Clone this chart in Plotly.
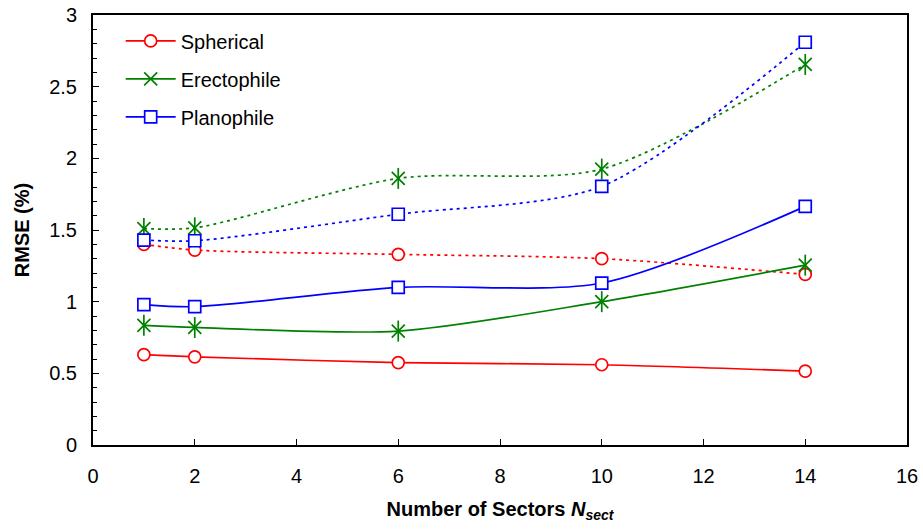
import plotly.graph_objects as go

# number of sectors
sectors = [1, 2, 6, 10, 14]

# RMSE (%) - solid curves
spherical = [0.63, 0.615, 0.575, 0.56, 0.515]
erectophile = [0.835, 0.82, 0.795, 1.0, 1.255]
planophile = [0.98, 0.965, 1.10, 1.13, 1.665]

# RMSE (%) - dotted curves
spherical_dot = [1.40, 1.36, 1.33, 1.30, 1.19]
erectophile_dot = [1.51, 1.515, 1.86, 1.925, 2.655]
planophile_dot = [1.43, 1.425, 1.61, 1.805, 2.81]

RED = '#ff0000'
GREEN = '#008000'
BLUE = '#0000ff'
FONT = 'Liberation Sans, Arial, sans-serif'

series = [
    ('Spherical', spherical, spherical_dot, RED, 'circle'),
    ('Erectophile', erectophile, erectophile_dot, GREEN, 'x-thin-open'),
    ('Planophile', planophile, planophile_dot, BLUE, 'square'),
]

traces = []
for name, solid, dotted, color, symbol in series:
    for values, dash, legend in ((dotted, '3px,4px', False), (solid, 'solid', True)):
        traces.append(
            go.Scatter(
                x=sectors,
                y=values,
                name=name,
                legendgroup=name,
                showlegend=legend,
                mode='lines+markers',
                line=dict(color=color, width=1.7, dash=dash,
                          shape='spline', smoothing=0.8),
                marker=dict(
                    symbol=symbol,
                    size=12 if symbol != 'x-thin-open' else 13,
                    color='white' if symbol != 'x-thin-open' else color,
                    line=dict(color=color, width=1.7),
                ),
                cliponaxis=False,
            )
        )
        if symbol == 'x-thin-open':
            # vertical bar turns the cross into an Excel style star
            traces.append(
                go.Scatter(
                    x=sectors,
                    y=values,
                    mode='markers',
                    showlegend=False,
                    hoverinfo='skip',
                    marker=dict(symbol='line-ns-open', size=15, color=color,
                                line=dict(color=color, width=1.7)),
                    cliponaxis=False,
                )
            )

axis_common = dict(
    showgrid=False,
    zeroline=False,
    showline=True,
    linecolor='black',
    linewidth=2,
    mirror=True,
    ticks='inside',
    ticklen=6,
    tickwidth=1,
    tickcolor='black',
    automargin=False,
    ticklabeloverflow='allow',
    tickfont=dict(family=FONT, size=20, color='black'),
)

layout = dict(
    width=923,
    height=530,
    plot_bgcolor='white',
    paper_bgcolor='white',
    margin=dict(l=93, r=16, t=15, b=85),
    xaxis=dict(
        axis_common,
        range=[0, 16],
        dtick=2,
        ticklabelstandoff=12,
        title=dict(
            text='<b>Number of Sectors <i>N<sub>sect</sub></i></b>',
            font=dict(family=FONT, size=20, color='black'),
            standoff=16,
        ),
    ),
    yaxis=dict(
        axis_common,
        range=[0, 3],
        dtick=0.5,
        ticklabelstandoff=10,
        minor=dict(dtick=0.1, ticks='inside', ticklen=4, tickcolor='black'),
        title=dict(
            text='<b>RMSE (%)</b>',
            font=dict(family=FONT, size=20, color='black'),
            standoff=14,
        ),
    ),
    legend=dict(
        x=0.034,
        y=0.985,
        xanchor='left',
        yanchor='top',
        bgcolor='rgba(0,0,0,0)',
        font=dict(family=FONT, size=20, color='black'),
        itemwidth=50,
        tracegroupgap=9,
    ),
    showlegend=True,
)

fig = go.Figure(data=traces, layout=layout)
# drop the default page margin so the figure fills the window exactly
fig.write_html(
    'out.html',
    config=dict(displayModeBar=False),
    post_script="document.body.style.margin = '0';",
)
